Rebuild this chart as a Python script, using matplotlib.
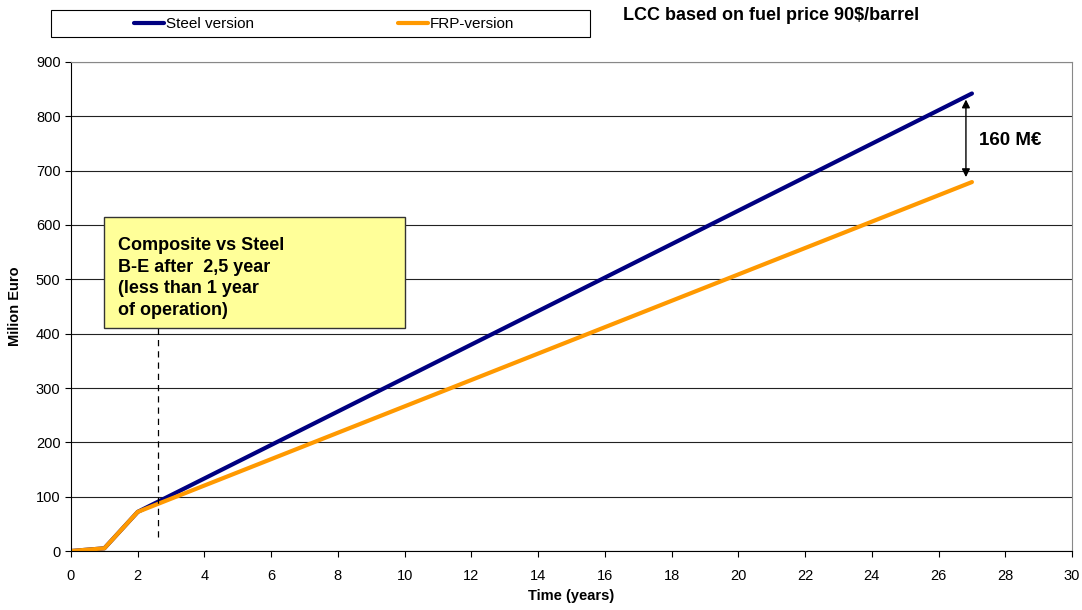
import matplotlib.pyplot as plt
import matplotlib.patches as mpatches

plt.rcParams['font.family'] = ['Liberation Sans', 'DejaVu Sans']

# data
years = [0, 1, 2, 27]
steel = [0, 5, 72, 842]
frp = [0, 5, 72, 679]
breakeven = 2.6
diff_label = '160 M€'

fig = plt.figure(figsize=(10.82, 6.10), dpi=100)
ax = fig.add_axes([0.0656, 0.0967, 0.9252, 0.8017])

ax.plot(years, steel, color='#000080', lw=3, label='Steel version', solid_capstyle='round')
ax.plot(years, frp, color='#FF9900', lw=3, label='FRP-version', solid_capstyle='round')

ax.set_xlim(0, 30)
ax.set_ylim(0, 900)
ax.set_xticks(range(0, 31, 2))
ax.set_yticks(range(0, 901, 100))
ax.yaxis.grid(True, color='#222222', lw=0.8)
ax.set_axisbelow(True)
ax.tick_params(labelsize=10.5, length=4, direction='out')
ax.tick_params(axis='x', pad=9)
for s in ['top', 'right']:
    ax.spines[s].set_color('#888888')
ax.set_xlabel('Time (years)', fontsize=10.5, fontweight='bold', labelpad=4)
ax.set_ylabel('Milion Euro', fontsize=10.5, fontweight='bold', labelpad=10)

# break-even marker
ax.plot([breakeven, breakeven], [25, 410], color='black', lw=0.9, ls=(0, (5, 4)))
box = mpatches.Rectangle((0.033, 0.456), 0.3007, 0.227, transform=ax.transAxes,
                         facecolor='#FFFF99', edgecolor='#333333', lw=1, zorder=4)
ax.add_patch(box)
ax.text(0.047, 0.643, 'Composite vs Steel\nB-E after  2,5 year\n(less than 1 year\nof operation)',
        transform=ax.transAxes, fontsize=13, fontweight='bold', va='top', ha='left',
        linespacing=1.38, zorder=5)

# difference arrow
ax.annotate('', xy=(26.82, steel[-1] - 6), xytext=(26.82, frp[-1] + 4),
            arrowprops=dict(arrowstyle='<|-|>', color='black', lw=1, mutation_scale=12))
ax.text(27.2, 756, diff_label, fontsize=13.5, fontweight='bold', va='center', ha='left')

# legend box across the top
frame = mpatches.Rectangle((51 / 1082, 1 - 37 / 610), 539 / 1082, 27 / 610,
                           transform=fig.transFigure, facecolor='white',
                           edgecolor='black', lw=0.8)
fig.patches.append(frame)
leg = fig.legend(loc='center', bbox_to_anchor=(324 / 1082, 1 - 24 / 610),
                 ncol=2, frameon=False, fontsize=11, handlelength=2.0,
                 handletextpad=0.1, columnspacing=9.4, borderaxespad=0)

fig.text(623 / 1082, 1 - 16 / 610, 'LCC based on fuel price 90$/barrel', fontsize=13,
         fontweight='bold', va='center', ha='left')

fig.savefig('out.png', dpi=100)
